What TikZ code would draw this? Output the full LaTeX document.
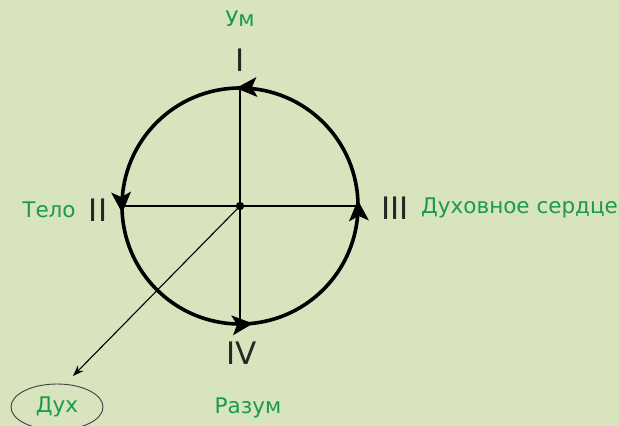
\documentclass[tikz,border=0pt]{standalone}
\usepackage{fontspec}
\setmainfont{DejaVu Sans}
\usetikzlibrary{arrows.meta,shapes.geometric}
\definecolor{bg}{HTML}{D7E4BD}
\definecolor{tgreen}{HTML}{1A9A4A}
\tikzset{
  lbl/.style={text=tgreen,font=\fontsize{21.5}{22}\selectfont,inner sep=0pt},
  num/.style={text=black!85,font=\fontsize{31}{32}\selectfont,inner sep=0pt},
  ring/.style={line width=3.6pt},
  headfill/.style={fill=black},
}
\newcommand{\myhead}[2]{\fill[headfill,shift={(#1)},rotate=#2] (0,0) -- (-21,10) -- (-16,0) -- (-21,-10) -- cycle;}
\begin{document}
\begin{tikzpicture}[x=1pt,y=-1pt]
\fill[bg] (0,0) rectangle (619,426);
\useasboundingbox (0,0) rectangle (619,426);
\coordinate (c) at (240,206);
\coordinate (top) at (240,88);
\coordinate (bot) at (240,324);
\coordinate (lft) at (122,206);
\coordinate (rgt) at (358,206);
\coordinate (end) at (73,376);
\coordinate (ttop) at (236,88.1);
\coordinate (tlft) at (122.2,213);
\coordinate (tbot) at (253,323.5);
\coordinate (trgt) at (357.8,200);
\draw[line width=1.1pt] (lft) -- (rgt);
\draw[line width=2.4pt] (top) -- (bot);
\draw[ring] (c) circle[radius=118];
\myhead{ttop}{183}
\myhead{tlft}{-87}
\myhead{tbot}{5}
\myhead{trgt}{93}
\fill (c) circle[radius=4.2];
\draw[line width=1.1pt,-{Stealth[length=11pt,width=8pt]}] (c) -- (end);
\node[lbl] (um) at (240,19) {Ум};
\node[num] (n1) at (240,60) {I};
\node[lbl] (telo) at (49,210) {Тело};
\node[num] (n2) at (98,210) {II};
\node[num] (n3) at (395,208) {III};
\node[lbl,anchor=west] (serd) at (421,208) {Духовное сердце};
\node[num] (n4) at (242,353) {IV};
\node[lbl] (razum) at (248,408) {Разум};
\node[lbl] (duh) at (57,407) {Дух};
\draw[line width=0.9pt,black!75] (57,407) ellipse[x radius=46,y radius=23];
\end{tikzpicture}
\end{document}
